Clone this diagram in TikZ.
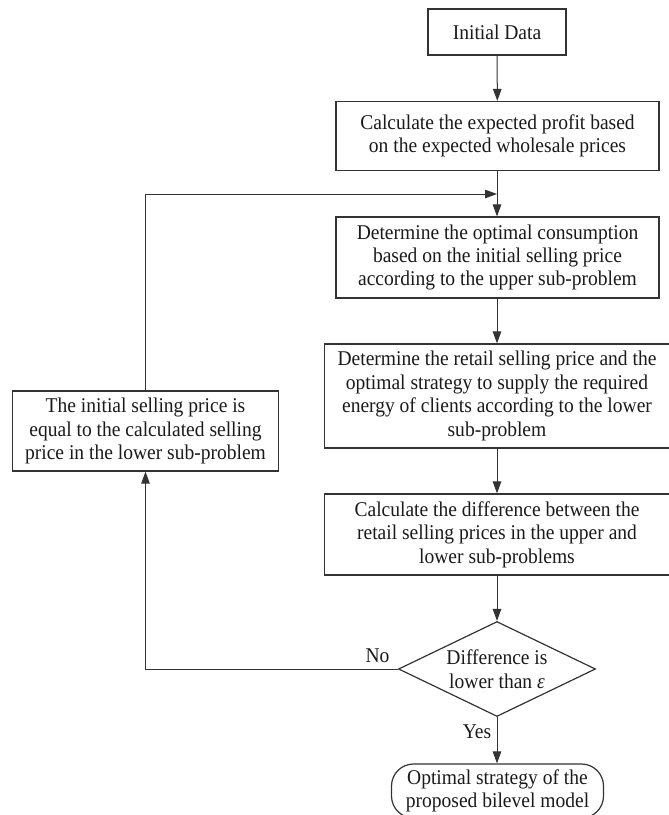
\documentclass[tikz,border=0pt]{standalone}
\usepackage{fontspec}
\setmainfont{Liberation Serif}[FakeStretch=0.93]
\usetikzlibrary{shapes.geometric,arrows.meta}
\definecolor{linegray}{HTML}{333333}
\definecolor{textgray}{HTML}{1A1A1A}
\newcommand{\figfont}{\fontsize{21}{23.4}\selectfont}
\begin{document}
\begin{tikzpicture}[x=1pt,y=-1pt,
  box/.style={draw=linegray,line width=1.2pt,inner sep=0pt,align=center,font=\figfont,text=textgray},
  decision/.style={box,shape=diamond,aspect=2.07,minimum width=197pt,minimum height=95pt},
  terminal/.style={box,rounded corners=22pt},
  lbl/.style={font=\figfont,text=textgray,inner sep=0pt},
  arr/.style={draw=linegray,line width=1pt,-{Triangle[length=12pt,width=8.5pt]}}]
\useasboundingbox (0,0) rectangle (669,815);
\node[box,minimum width=138pt,minimum height=46pt] (init) at (497,32) {Initial Data};
\node[box,minimum width=323pt,minimum height=69pt] (b2) at (497.5,136) {Calculate the expected profit based\\on the expected wholesale prices};
\node[box,minimum width=323pt,minimum height=81pt] (b3) at (497.5,257.5) {Determine the optimal consumption\\based on the initial selling price\\according to the upper sub-problem};
\node[box,minimum width=345pt,minimum height=104pt] (b4) at (497,396) {Determine the retail selling price and the\\optimal strategy to supply the required\\energy of clients according to the lower\\sub-problem};
\node[box,minimum width=345pt,minimum height=81pt] (b5) at (497,534.5) {Calculate the difference between the\\retail selling prices in the upper and\\lower sub-problems};
\node[decision] (dec) at (497,669) {Difference is\\lower than \textit{ε}};
\node[terminal,minimum width=212pt,minimum height=54pt] (term) at (497.5,791) {Optimal strategy of the\\proposed bilevel model};
\node[box,minimum width=266pt,minimum height=80pt] (left) at (145.5,431) {The initial selling price is\\equal to the calculated selling\\price in the lower sub-problem};
\node[lbl] (no) at (377.5,656) {No};
\node[lbl] (yes) at (477,732) {Yes};
\coordinate (join) at (497,194);
\draw[arr] (init) -- (b2);
\draw[arr] (b2.south -| init.south) -- (b3.north -| init.south);
\draw[arr] (b3.south -| init.south) -- (b4);
\draw[arr] (b4) -- (b5);
\draw[arr] (b5) -- (dec);
\draw[arr] (dec) -- (dec.south |- term.north);
\draw[arr] (dec.west) -| (left.south);
\draw[arr] (left.north) |- (join);
\end{tikzpicture}
\end{document}
